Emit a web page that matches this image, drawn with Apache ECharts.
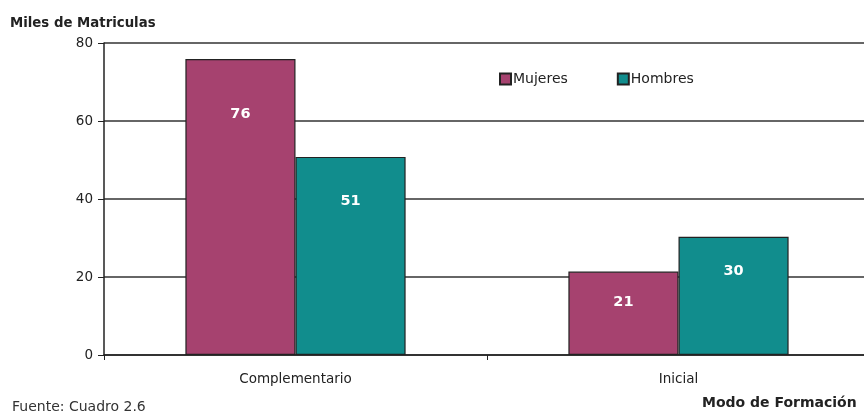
<!DOCTYPE html>
<html>
<head>
<meta charset="utf-8">
<script src="https://cdn.jsdelivr.net/npm/echarts@6/dist/echarts.min.js"></script>
<style>
  html, body { margin: 0; padding: 0; background: #fff; }
  #chart { width: 864px; height: 414px; }
</style>
</head>
<body>
<div id="chart"></div>
<script>
const categories = ['Complementario', 'Inicial']
const mujeres = [75.9, 21.4]
const hombres = [50.8, 30.3]
const yTicks = [0, 20, 40, 60, 80]

const FONT = '"DejaVu Sans", "Liberation Sans", sans-serif'

// labels sit a bit below the bar top, further down on taller bars
function withLabels(values) {
  return values.map((v) => ({
    value: v,
    label: { distance: 13 + 0.46 * v }
  }))
}

const chart = echarts.init(document.getElementById('chart'), null, { renderer: 'canvas' })

chart.setOption({
  backgroundColor: '#fff',
  animation: false,
  textStyle: { fontFamily: FONT },
  grid: { left: 104, top: 43, width: 766, height: 312, containLabel: false, outerBoundsMode: 'none' },
  title: [
    { text: 'Miles de Matriculas', left: 5, top: 12, textStyle: { fontFamily: FONT, fontSize: 13.3, fontWeight: 'bold', color: '#222' } },
    { text: 'Modo de Formación', left: 697, top: 391, textStyle: { fontFamily: FONT, fontSize: 14, fontWeight: 'bold', color: '#222' } },
    { text: 'Fuente: Cuadro 2.6', left: 7, top: 395, textStyle: { fontFamily: FONT, fontSize: 14, fontWeight: 'normal', color: '#333' } }
  ],
  legend: {
    left: 499, top: 72, padding: 0,
    itemWidth: 11, itemHeight: 11, itemGap: 49,
    icon: 'rect',
    textStyle: { fontFamily: FONT, fontSize: 14, color: '#222', padding: [0, 0, 0, -3] },
    data: ['Mujeres', 'Hombres']
  },
  xAxis: {
    type: 'category',
    data: categories,
    axisLine: { lineStyle: { color: '#222', width: 1.5 } },
    axisTick: { show: true, length: 5, lineStyle: { color: '#222' } },
    axisLabel: { color: '#222', fontFamily: FONT, fontSize: 13.5, margin: 17 },
    splitLine: { show: false }
  },
  yAxis: {
    type: 'value',
    min: yTicks[0], max: yTicks[yTicks.length - 1], interval: 20,
    axisLine: { show: true, lineStyle: { color: '#222', width: 1.5 } },
    axisTick: { show: true, length: 6, lineStyle: { color: '#222' } },
    axisLabel: { color: '#222', fontFamily: FONT, fontSize: 13.5, margin: 11 },
    splitLine: { lineStyle: { color: '#333', width: 1.5 } }
  },
  series: [
    {
      name: 'Mujeres', type: 'bar', data: withLabels(mujeres),
      barGap: '0%', barCategoryGap: '42.5%',
      itemStyle: { color: '#A6426F', borderColor: '#222', borderWidth: 1.2 },
      label: { show: true, position: 'insideTop', color: '#fff', fontFamily: FONT, fontWeight: 'bold', fontSize: 14.5, formatter: (p) => Math.round(p.value) }
    },
    {
      name: 'Hombres', type: 'bar', data: withLabels(hombres),
      itemStyle: { color: '#118D8D', borderColor: '#222', borderWidth: 1.2 },
      label: { show: true, position: 'insideTop', color: '#fff', fontFamily: FONT, fontWeight: 'bold', fontSize: 14.5, formatter: (p) => Math.round(p.value) }
    }
  ]
})
</script>
</body>
</html>
